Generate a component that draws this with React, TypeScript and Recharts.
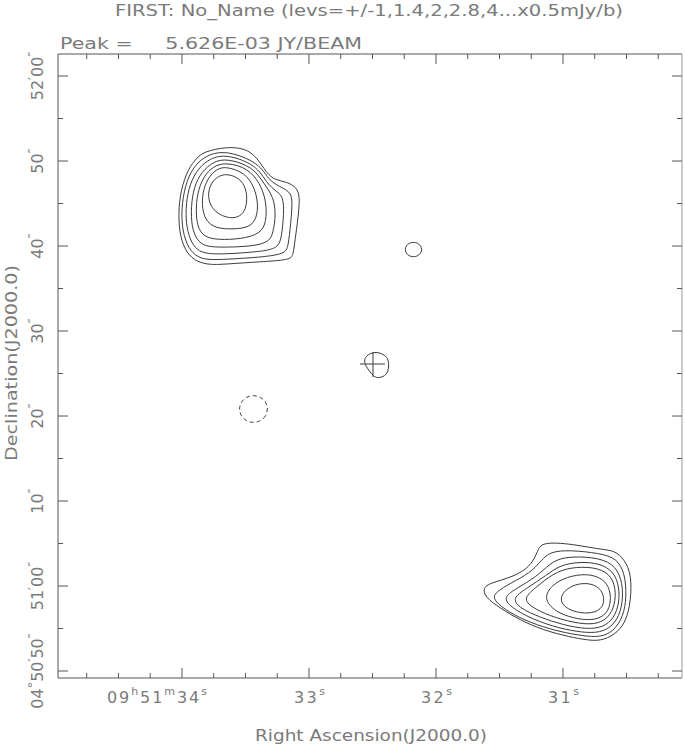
import React from 'react';
import { LineChart, Line, XAxis, YAxis, Label } from 'recharts';

// ---------- text ----------
const titleText = 'FIRST: No_Name (levs=+/-1,1.4,2,2.8,4...x0.5mJy/b)';
const peakText = 'Peak =     5.626E-03 JY/BEAM';
const xAxisTitle = 'Right Ascension(J2000.0)';
const yAxisTitle = 'Declination(J2000.0)';

// ---------- axes (RA in seconds of 09h51m, Dec in arcsec past +04°50'00") ----------
const raDomain = [30.063, 34.976];
const decDomain = [49.18, 122.59];
const raTicks = [34.75, 34.5, 34.25, 34, 33.75, 33.5, 33.25, 33, 32.75, 32.5, 32.25, 32, 31.75, 31.5, 31.25, 31, 30.75, 30.5, 30.25];
const raMajorTicks = [34, 33, 32, 31];
type Piece = [string, number];
const raMajorLabels: Piece[][] = [
  [['09', 0], ['h', 1], ['51', 0], ['m', 1], ['34', 0], ['s', 1]],
  [['33', 0], ['s', 1]],
  [['32', 0], ['s', 1]],
  [['31', 0], ['s', 1]],
];
const decTicks = [50, 55, 60, 65, 70, 75, 80, 85, 90, 95, 100, 105, 110, 115, 120];
const decMajorTicks = [50, 60, 70, 80, 90, 100, 110, 120];
const decMajorLabels: Piece[][] = [
  [['04', 0], ['°', 1], ['50', 0], ['′', 1], ['50', 0], ['″', 1]],
  [['51', 0], ['′', 1], ['00', 0], ['″', 1]],
  [['10', 0], ['″', 1]],
  [['20', 0], ['″', 1]],
  [['30', 0], ['″', 1]],
  [['40', 0], ['″', 1]],
  [['50', 0], ['″', 1]],
  [['52', 0], ['′', 1], ['00', 0], ['″', 1]],
];

// ---------- contours: [RA s, Dec arcsec] ----------
const contourA1 = [
  [33.832, 111.09], [33.648, 111.68], [33.504, 111.49], [33.412, 110.51], [33.333, 108.55], [33.268, 107.76],
  [33.176, 107.56], [33.097, 106.91], [33.071, 105.8], [33.084, 103.45], [33.11, 100.71], [33.124, 98.94],
  [33.15, 98.35], [33.386, 98.15], [33.648, 97.88], [33.78, 97.77], [33.884, 98.15], [33.963, 99.14],
  [34.016, 101.09], [34.029, 103.85], [34.01, 106.59], [33.95, 109.14], [33.884, 110.32],
];
const contourA2 = [
  [33.648, 111.29], [33.386, 109.73], [33.321, 107.76], [33.228, 106.98], [33.15, 106.39], [33.128, 105.41],
  [33.144, 102.67], [33.163, 99.92], [33.189, 99.06], [33.386, 98.67], [33.648, 98.44], [33.806, 98.35],
  [33.898, 98.82], [33.963, 100.12], [34.002, 102.27], [34.002, 105.02], [33.963, 107.76], [33.898, 109.53],
  [33.806, 110.71],
];
const contourA3 = [
  [33.648, 110.82], [33.412, 109.53], [33.333, 107.38], [33.254, 106.39], [33.202, 105.8], [33.197, 103.85],
  [33.215, 101.09], [33.242, 99.73], [33.386, 99.33], [33.648, 99.06], [33.806, 99.06], [33.884, 99.53],
  [33.937, 100.71], [33.969, 102.67], [33.969, 105.02], [33.937, 107.38], [33.872, 109.14], [33.78, 110.32],
];
const contourA4 = [
  [33.648, 110.32], [33.439, 109.33], [33.347, 107.18], [33.281, 105.8], [33.26, 103.85], [33.281, 101.49],
  [33.321, 100.32], [33.491, 99.92], [33.675, 99.85], [33.819, 99.92], [33.884, 100.71], [33.924, 102.27],
  [33.929, 104.62], [33.906, 106.98], [33.845, 108.74], [33.754, 109.92],
];
const contourA5 = [
  [33.648, 109.85], [33.478, 109.14], [33.386, 107.38], [33.339, 105.41], [33.333, 103.45], [33.36, 101.68],
  [33.491, 100.91], [33.675, 100.71], [33.806, 100.91], [33.872, 101.88], [33.892, 103.85], [33.88, 106.2],
  [33.832, 108.15], [33.754, 109.41],
];
const contourA6 = [
  [33.648, 109.33], [33.504, 108.62], [33.431, 106.98], [33.399, 105.02], [33.412, 103.26], [33.465, 102.2],
  [33.596, 101.96], [33.74, 102.08], [33.819, 103.06], [33.845, 104.82], [33.832, 106.79], [33.78, 108.35],
  [33.714, 109.14],
];
const contourA7 = [
  [33.648, 108.55], [33.543, 107.96], [33.496, 106.79], [33.486, 105.41], [33.504, 104.04], [33.557, 103.38],
  [33.622, 103.26], [33.701, 103.65], [33.766, 104.44], [33.798, 105.8], [33.78, 107.18], [33.727, 108.15],
];
const contourB1 = [
  [31.205, 63.88], [31.181, 64.82], [31.118, 65.06], [31.024, 65.06], [30.89, 64.82], [30.764, 64.47],
  [30.646, 64.24], [30.575, 64.0], [30.496, 62.71], [30.457, 60.71], [30.473, 57.53], [30.512, 55.65],
  [30.591, 54.24], [30.709, 53.53], [30.811, 53.65], [30.945, 54.0], [31.158, 54.82], [31.339, 56.0],
  [31.496, 57.41], [31.614, 58.71], [31.63, 59.76], [31.575, 60.35], [31.394, 61.06], [31.26, 62.24],
];
const contourB2 = [
  [31.522, 59.33], [31.417, 60.32], [31.26, 61.49], [31.168, 63.06], [31.102, 64.04], [30.945, 64.24],
  [30.709, 63.85], [30.577, 63.26], [30.512, 61.49], [30.499, 58.74], [30.525, 56.39], [30.604, 54.62],
  [30.709, 53.97], [30.84, 54.12], [31.024, 54.62], [31.207, 55.41], [31.391, 56.59], [31.522, 57.96],
  [31.549, 58.74],
];
const contourB3 = [
  [31.465, 58.74], [31.365, 59.73], [31.207, 61.09], [31.102, 62.67], [30.998, 63.45], [30.761, 63.45],
  [30.604, 62.67], [30.538, 60.91], [30.525, 58.55], [30.557, 56.39], [30.63, 55.02], [30.735, 54.44],
  [30.892, 54.62], [31.076, 55.21], [31.286, 56.39], [31.431, 57.76],
];
const contourB4 = [
  [31.404, 58.55], [31.286, 59.73], [31.128, 61.29], [31.024, 62.47], [30.866, 62.86], [30.709, 62.67],
  [30.599, 61.68], [30.557, 59.92], [30.557, 57.96], [30.599, 56.2], [30.683, 55.14], [30.813, 54.91],
  [30.998, 55.41], [31.181, 56.32], [31.339, 57.38],
];
const contourB5 = [
  [31.317, 58.55], [31.207, 59.92], [31.076, 61.49], [30.945, 62.2], [30.761, 62.27], [30.63, 61.49],
  [30.583, 59.73], [30.591, 57.76], [30.643, 56.2], [30.748, 55.41], [30.919, 55.68], [31.102, 56.47],
  [31.247, 57.49],
];
const contourB6 = [
  [31.155, 58.55], [31.089, 60.12], [30.971, 61.09], [30.813, 61.49], [30.683, 60.91], [30.625, 59.53],
  [30.625, 57.76], [30.669, 56.47], [30.774, 55.92], [30.919, 56.2], [31.063, 56.98],
];
const contourB7 = [
  [31.024, 58.55], [30.984, 59.53], [30.906, 60.2], [30.801, 60.39], [30.709, 59.85], [30.669, 58.55],
  [30.695, 57.18], [30.801, 56.71], [30.919, 56.98], [30.998, 57.65],
];
const contourC = [
  [32.11, 99.59], [32.119, 99.15], [32.144, 98.82], [32.177, 98.71], [32.211, 98.82], [32.236, 99.15],
  [32.244, 99.59], [32.236, 100.03], [32.211, 100.35], [32.177, 100.47], [32.144, 100.35], [32.119, 100.03],
];
const contourD = [
  [32.465, 87.53], [32.417, 87.29], [32.378, 86.82], [32.37, 86.0], [32.378, 85.18], [32.402, 84.71],
  [32.449, 84.47], [32.488, 84.59], [32.52, 85.18], [32.551, 85.88], [32.567, 86.47], [32.551, 87.06],
  [32.512, 87.41],
];
const negativeContourE = [
  [33.323, 80.82], [33.338, 80.0], [33.38, 79.4], [33.437, 79.18], [33.494, 79.4], [33.536, 80.0],
  [33.551, 80.82], [33.536, 81.65], [33.494, 82.25], [33.437, 82.47], [33.38, 82.25], [33.338, 81.65],
];
const crossHorizontal = [[32.598, 86.12], [32.402, 86.12]];
const crossVertical = [[32.496, 87.53], [32.496, 84.59]];

const positiveContours = [
  contourA1, contourA2, contourA3, contourA4, contourA5, contourA6, contourA7,
  contourB1, contourB2, contourB3, contourB4, contourB5, contourB6, contourB7,
  contourC, contourD,
];

const toPoints = (c: number[][]) => c.map(([ra, dec]) => ({ ra, dec }));

// ---------- styles ----------
const FONT = 'DejaVu Sans';
const TEXT = '#7a7a7a';
const FRAME = '#555';
const INK = '#3a3a3a';
const MAJOR = 10;
const MINOR = 5;

const renderPieces = (pieces: Piece[], size: number, supSize: number, lift: number) => {
  let shift = 0;
  return pieces.map(([t, sup], i) => {
    const target = sup ? -lift : 0;
    const dy = target - shift;
    shift = target;
    return (
      <tspan key={i} dy={dy} fontSize={sup ? supSize : size}>
        {t}
      </tspan>
    );
  });
};

const BottomTick = (props: any) => {
  const { x, y, payload } = props;
  const idx = raMajorTicks.indexOf(payload.value);
  const len = idx >= 0 ? MAJOR : MINOR;
  const pieces = idx >= 0 ? raMajorLabels[idx] : null;
  const long = pieces && pieces.length > 2;
  return (
    <g>
      <line x1={x} y1={y} x2={x} y2={y - len} stroke={FRAME} strokeWidth={1} />
      {pieces && (
        <text
          x={long ? x - 75 : x - 15}
          y={y + 25}
          textLength={long ? 100 : 31}
          lengthAdjust="spacing"
          fill={TEXT}
          fontFamily={FONT}
        >
          {renderPieces(pieces, 16, 11, 8)}
        </text>
      )}
    </g>
  );
};

const TopTick = (props: any) => {
  const { x, y, payload } = props;
  const len = raMajorTicks.indexOf(payload.value) >= 0 ? MAJOR : MINOR;
  return <line x1={x} y1={y} x2={x} y2={y + len} stroke={FRAME} strokeWidth={1} />;
};

const LeftTick = (props: any) => {
  const { x, y, payload } = props;
  const idx = decMajorTicks.indexOf(payload.value);
  const len = idx >= 0 ? MAJOR : MINOR;
  const pieces = idx >= 0 ? decMajorLabels[idx] : null;
  const tx = x - 15;
  return (
    <g>
      <line x1={x} y1={y} x2={x + len} y2={y} stroke={FRAME} strokeWidth={1} />
      {pieces && (
        <text x={tx} y={y} transform={`rotate(-90, ${tx}, ${y})`} textAnchor="middle" fill={TEXT} fontFamily={FONT}>
          {renderPieces(pieces, 16, 13, 6)}
        </text>
      )}
    </g>
  );
};

const RightTick = (props: any) => {
  const { x, y, payload } = props;
  const len = decMajorTicks.indexOf(payload.value) >= 0 ? MAJOR : MINOR;
  return <line x1={x} y1={y} x2={x - len} y2={y} stroke={FRAME} strokeWidth={1} />;
};

const TopTexts = () => (
  <g>
    <text x={369} y={16} textAnchor="middle" textLength={508} lengthAdjust="spacingAndGlyphs" fontSize={16} fill={TEXT} fontFamily={FONT}>
      {titleText}
    </text>
    <text x={60} y={49} textLength={302} lengthAdjust="spacingAndGlyphs" fontSize={16} fill={TEXT} fontFamily={FONT} style={{ whiteSpace: 'pre' }}>
      {peakText}
    </text>
  </g>
);

const BottomTitle = () => (
  <text x={371} y={741} textAnchor="middle" textLength={232} lengthAdjust="spacingAndGlyphs" fontSize={16} fill={TEXT} fontFamily={FONT}>
    {xAxisTitle}
  </text>
);

const LeftTitle = () => (
  <text x={17} y={363} transform="rotate(-90, 17, 363)" textAnchor="middle" textLength={196} lengthAdjust="spacingAndGlyphs" fontSize={16} fill={TEXT} fontFamily={FONT}>
    {yAxisTitle}
  </text>
);

export default function App() {
  return (
    <div style={{ position: 'absolute', left: 0, top: 0, width: 685, height: 746, background: '#fff' }}>
      <LineChart width={685} height={746} margin={{ top: 0, right: 0, bottom: 0, left: 0 }}>
        <XAxis
          xAxisId={0}
          dataKey="ra"
          type="number"
          domain={raDomain}
          reversed
          allowDataOverflow
          ticks={raTicks}
          interval={0}
          orientation="bottom"
          height={68}
          tickSize={0}
          tickMargin={0}
          tickLine={false}
          axisLine={{ stroke: FRAME }}
          tick={<BottomTick />}
        >
          <Label content={BottomTitle} />
        </XAxis>
        <XAxis
          xAxisId="top"
          dataKey="ra"
          type="number"
          domain={raDomain}
          reversed
          allowDataOverflow
          ticks={raTicks}
          interval={0}
          orientation="top"
          height={54}
          tickSize={0}
          tickMargin={0}
          tickLine={false}
          axisLine={{ stroke: FRAME }}
          tick={<TopTick />}
        >
          <Label content={TopTexts} />
        </XAxis>
        <YAxis
          yAxisId={0}
          type="number"
          domain={decDomain}
          allowDataOverflow
          ticks={decTicks}
          interval={0}
          orientation="left"
          width={58}
          tickSize={0}
          tickMargin={0}
          tickLine={false}
          axisLine={{ stroke: FRAME }}
          tick={<LeftTick />}
        >
          <Label content={LeftTitle} />
        </YAxis>
        <YAxis
          yAxisId="right"
          type="number"
          domain={decDomain}
          allowDataOverflow
          ticks={decTicks}
          interval={0}
          orientation="right"
          width={3}
          tickSize={0}
          tickMargin={0}
          tickLine={false}
          axisLine={{ stroke: '#9a9a9a' }}
          tick={<RightTick />}
        />
        {positiveContours.map((c, i) => (
          <Line
            key={`p${i}`}
            data={toPoints(c)}
            dataKey="dec"
            type="basisClosed"
            stroke={INK}
            strokeWidth={1}
            dot={false}
            activeDot={false}
            isAnimationActive={false}
          />
        ))}
        <Line
          data={toPoints(negativeContourE)}
          dataKey="dec"
          type="basisClosed"
          stroke={INK}
          strokeWidth={1}
          strokeDasharray="4 3"
          dot={false}
          activeDot={false}
          isAnimationActive={false}
        />
        <Line data={toPoints(crossHorizontal)} dataKey="dec" type="linear" stroke={INK} strokeWidth={1} dot={false} activeDot={false} isAnimationActive={false} />
        <Line data={toPoints(crossVertical)} dataKey="dec" type="linear" stroke={INK} strokeWidth={1} dot={false} activeDot={false} isAnimationActive={false} />
      </LineChart>
    </div>
  );
}
